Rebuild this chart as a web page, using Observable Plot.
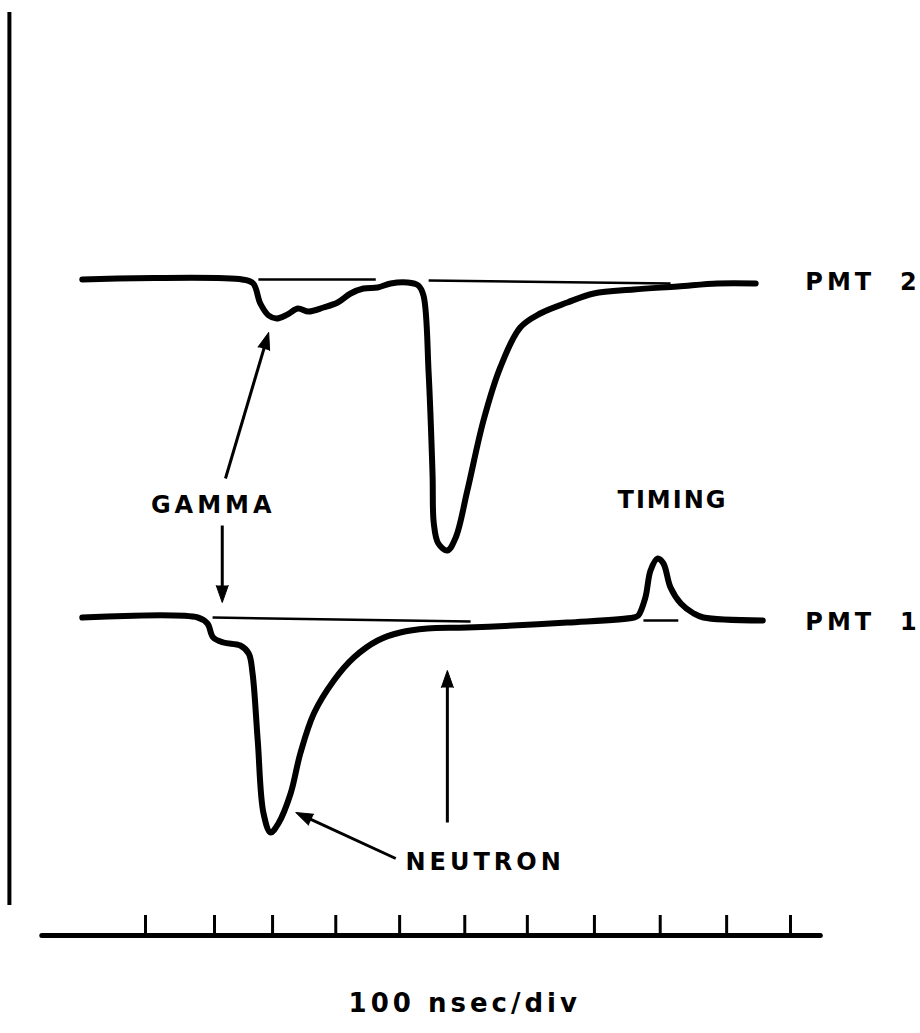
<!DOCTYPE html>
<html>
<head>
<meta charset="utf-8">
<script src="https://cdn.jsdelivr.net/npm/d3@7"></script>
<script src="https://cdn.jsdelivr.net/npm/@observablehq/plot@0.6"></script>
<style>
  html, body { margin: 0; padding: 0; background: #fff; }
  #chart svg text { letter-spacing: 4px; }
</style>
</head>
<body>
<div id="chart"></div>
<script>
// ---- Data (time in ns, amplitude in arbitrary units) ----
const tickTimes = [0, 107, 197, 295, 394, 495, 592, 696, 798, 901, 1000];

// PMT 2 trace: deflection relative to its baseline
const pmt2Offset = 65.6;
const pmt2Time = [-98, 150, 167, 178, 191, 203, 220, 236, 253, 276, 298, 318, 338, 360, 380, 406, 423, 431, 439, 445, 447, 454, 468, 481, 499, 524, 550, 581, 612, 654, 695, 757, 825, 887, 946];
const pmt2Defl = [0, 0, -0.4, -2.4, -3.6, -3.9, -3.5, -2.9, -3.2, -2.8, -2.3, -1.4, -0.9, -0.8, -0.4, -0.3, -0.6, -1.6, -9.4, -19.4, -24.4, -26.4, -27.1, -25.8, -21.1, -14.1, -8.8, -4.8, -3.4, -2.3, -1.4, -1.0, -0.7, -0.4, -0.4];

// PMT 1 trace: deflection relative to its baseline
const pmt1Offset = 31.8;
const pmt1Time = [-98, 81, 96, 105, 121, 147, 160, 166, 174, 183, 194, 206, 225, 240, 261, 292, 323, 360, 395, 437, 499, 654, 757, 764, 775, 783, 794, 803, 814, 830, 850, 865, 957];
const pmt1Defl = [0, 0, -0.6, -2.0, -2.5, -2.8, -3.6, -5.6, -12.3, -19.6, -21.5, -20.6, -17.6, -13.6, -9.6, -6.3, -4.0, -2.3, -1.5, -1.1, -1.0, -0.5, 0, 0.2, 2.0, 4.7, 5.9, 5.4, 3.0, 1.4, 0.4, 0, -0.3];

// thin reference baselines drawn under the traces
const refTrace = ["PMT 2", "PMT 2", "PMT 1", "PMT 1"];
const refStart = [175, 439, 104, 772];
const refEnd = [357, 814, 504, 826];
const refDeflStart = [0, -0.1, 0, -0.3];
const refDeflEnd = [0, -0.4, -0.4, -0.3];

// annotation labels
const labelText = ["GAMMA", "TIMING", "NEUTRON", "PMT\u00a0\u00a02", "PMT\u00a0\u00a01"];
const labelTime = [105, 817, 403, 1023, 1023];
const labelAmp = [43.0, 43.5, 7.3, 65.3, 31.3];
const labelAnchor = ["middle", "middle", "start", "start", "start"];

// annotation arrows (tail -> tip)
const arrowT1 = [124, 119, 468, 388];
const arrowA1 = [45.7, 41.0, 11.3, 7.7];
const arrowT2 = [191, 119, 468, 233];
const arrowA2 = [60.3, 33.3, 26.5, 12.3];

// frame
const axisSpan = [-160, 1047];
const tickHeight = 2;
const leftRuleTime = -211;
const leftRuleSpan = [3.0, 92.3];
const captionText = "100 nsec/div";
const captionTime = 495;
const captionAmp = -6.8;

// ---- scales ----
const xDomain = [0, 1000], xRange = [145, 790];
const yDomain = [0, 93.5], yRange = [935, 0];
const kx = (xRange[1] - xRange[0]) / (xDomain[1] - xDomain[0]);
const ky = (yRange[0] - yRange[1]) / (yDomain[1] - yDomain[0]);

// ---- build tables ----
const offsets = {"PMT 2": pmt2Offset, "PMT 1": pmt1Offset};
const pmt2 = pmt2Time.map((t, i) => ({t, v: pmt2Offset + pmt2Defl[i]}));
const pmt1 = pmt1Time.map((t, i) => ({t, v: pmt1Offset + pmt1Defl[i]}));
const refs = refTrace.map((k, i) => ({
  t1: refStart[i], t2: refEnd[i],
  v1: offsets[k] + refDeflStart[i], v2: offsets[k] + refDeflEnd[i]
}));
const labels = labelText.map((s, i) => ({s, t: labelTime[i], v: labelAmp[i], a: labelAnchor[i]}));
const arrows = arrowT1.map((t, i) => {
  const sx = (arrowT2[i] - t) * kx;
  const sy = -(arrowA2[i] - arrowA1[i]) * ky;
  const len = Math.hypot(sx, sy);
  const back = 10 / len; // stop the shaft inside the head
  return {
    t1: t, v1: arrowA1[i], t2: arrowT2[i], v2: arrowA2[i],
    ts: arrowT2[i] - (arrowT2[i] - t) * back,
    vs: arrowA2[i] - (arrowA2[i] - arrowA1[i]) * back,
    rot: Math.atan2(sx, -sy) * 180 / Math.PI
  };
});

const textStyle = {fontSize: 24, fontWeight: "bold", fontFamily: "DejaVu Sans", fill: "#000"};

const plot = Plot.plot({
  width: 920,
  height: 1033,
  margin: 0,
  x: {domain: xDomain, range: xRange},
  y: {domain: yDomain, range: yRange},
  axis: null,
  style: {background: "#fff", color: "#000"},
  marks: [
    // left vertical rule
    Plot.ruleX([leftRuleTime], {y1: leftRuleSpan[0], y2: leftRuleSpan[1], stroke: "#000", strokeWidth: 4}),
    // time axis with ticks pointing up
    Plot.ruleY([0], {x1: axisSpan[0], x2: axisSpan[1], stroke: "#000", strokeWidth: 5, strokeLinecap: "round"}),
    Plot.ruleX(tickTimes, {y1: 0, y2: tickHeight, stroke: "#000", strokeWidth: 3}),
    // thin baselines
    Plot.link(refs, {x1: "t1", y1: "v1", x2: "t2", y2: "v2", stroke: "#000", strokeWidth: 2.5}),
    // traces
    Plot.line(pmt2, {x: "t", y: "v", curve: "catmull-rom", stroke: "#000", strokeWidth: 6, strokeLinecap: "round", strokeLinejoin: "round"}),
    Plot.line(pmt1, {x: "t", y: "v", curve: "catmull-rom", stroke: "#000", strokeWidth: 6, strokeLinecap: "round", strokeLinejoin: "round"}),
    // arrows: shaft + filled head
    Plot.link(arrows, {x1: "t1", y1: "v1", x2: "ts", y2: "vs", stroke: "#000", strokeWidth: 3}),
    Plot.vector(arrows, {x: "t2", y: "v2", rotate: "rot", length: 17, r: 6, shape: "spike", anchor: "end", fill: "#000", stroke: "#000", strokeWidth: 1}),
    // labels
    Plot.text(labels.filter(d => d.a === "middle"), {x: "t", y: "v", text: "s", textAnchor: "middle", ...textStyle}),
    Plot.text(labels.filter(d => d.a === "start"), {x: "t", y: "v", text: "s", textAnchor: "start", ...textStyle}),
    // caption
    Plot.text([captionText], {x: () => captionTime, y: () => captionAmp, text: d => d, textAnchor: "middle", ...textStyle, fontSize: 26})
  ]
});
d3.select(plot).selectAll("text").filter(function () { return this.textContent === "TIMING"; }).style("letter-spacing", "2px");
document.getElementById("chart").appendChild(plot);
</script>
</body>
</html>
